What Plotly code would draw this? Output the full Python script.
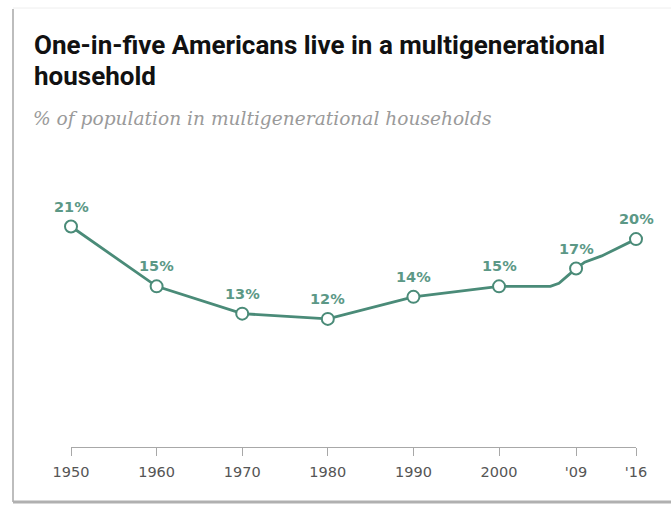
import plotly.graph_objects as go

years = [1950, 1960, 1970, 1980, 1990, 2000, 2006, 2007, 2008, 2009, 2010, 2011, 2012, 2013, 2014, 2015, 2016]
share = [21.0, 15.3, 12.7, 12.2, 14.3, 15.3, 15.3, 15.6, 16.3, 17.0, 17.6, 17.9, 18.2, 18.6, 19.0, 19.4, 19.8]

marker_years = [1950, 1960, 1970, 1980, 1990, 2000, 2009, 2016]
marker_vals = [21.0, 15.3, 12.7, 12.2, 14.3, 15.3, 17.0, 19.8]
marker_labels = ["21%", "15%", "13%", "12%", "14%", "15%", "17%", "20%"]

tick_vals = [1950, 1960, 1970, 1980, 1990, 2000, 2009, 2016]
tick_text = ["1950", "1960", "1970", "1980", "1990", "2000", "'09", "'16"]

title_lines = ["One-in-five Americans live in a multigenerational", "household"]
subtitle = "% of population in multigenerational households"

GREEN = "#4a8b78"

fig = go.Figure()
fig.add_trace(go.Scatter(x=years, y=share, mode="lines",
                         line=dict(color=GREEN, width=2.8), hoverinfo="skip",
                         cliponaxis=False))
fig.add_trace(go.Scatter(x=marker_years, y=marker_vals, mode="markers",
                         marker=dict(size=12, color="white", line=dict(color=GREEN, width=2)),
                         cliponaxis=False))

for x, y, t in zip(marker_years, marker_vals, marker_labels):
    fig.add_annotation(x=x, y=y, text=f"<b>{t}</b>", showarrow=False, yshift=20,
                       font=dict(family="DejaVu Sans", size=14.5, color="#5c9886"))

W, H = 671, 506
L, R, T, B = 71, 35, 195, 59
pw, ph = W - L - R, H - T - B

def px(x):
    return (x - L) / pw

def py(y):
    return (H - B - y) / ph

fig.add_annotation(xref="paper", yref="paper", x=px(32), y=py(45), xanchor="left", yanchor="middle",
                   text=f"<b>{title_lines[0]}</b>", showarrow=False, align="left",
                   font=dict(family="Roboto", size=26, color="#111111"))
fig.add_annotation(xref="paper", yref="paper", x=px(32), y=py(76), xanchor="left", yanchor="middle",
                   text=f"<b>{title_lines[1]}</b>", showarrow=False, align="left",
                   font=dict(family="Roboto", size=26, color="#111111"))
fig.add_annotation(xref="paper", yref="paper", x=px(31), y=py(118), xanchor="left", yanchor="middle",
                   text=f"<i>{subtitle}</i>", showarrow=False, align="left",
                   font=dict(family="DejaVu Serif", size=18.6, color="#9a9a9a"))

# frame
fig.add_shape(type="line", xref="paper", yref="paper", x0=px(13), x1=px(13), y0=py(9), y1=py(502),
              line=dict(color="#bdbdbd", width=2))
fig.add_shape(type="line", xref="paper", yref="paper", x0=px(13), x1=px(671), y0=py(8), y1=py(8),
              line=dict(color="#eeeeee", width=1))
fig.add_shape(type="line", xref="paper", yref="paper", x0=px(13), x1=px(671), y0=py(502), y1=py(502),
              line=dict(color="#b0b0b0", width=3))

fig.update_layout(
    width=W, height=H, margin=dict(l=L, r=R, t=T, b=B),
    paper_bgcolor="white", plot_bgcolor="white", showlegend=False,
    xaxis=dict(range=[1950, 2016], tickvals=tick_vals, ticktext=tick_text,
               showgrid=False, zeroline=False, showline=True, linecolor="#a8a8a8", linewidth=1,
               ticks="outside", ticklen=8, tickcolor="#a8a8a8", ticklabelstandoff=4,
               tickfont=dict(family="DejaVu Sans", size=14.5, color="#555555")),
    yaxis=dict(range=[0, 24], visible=False),
)

fig.write_html("out.html")
